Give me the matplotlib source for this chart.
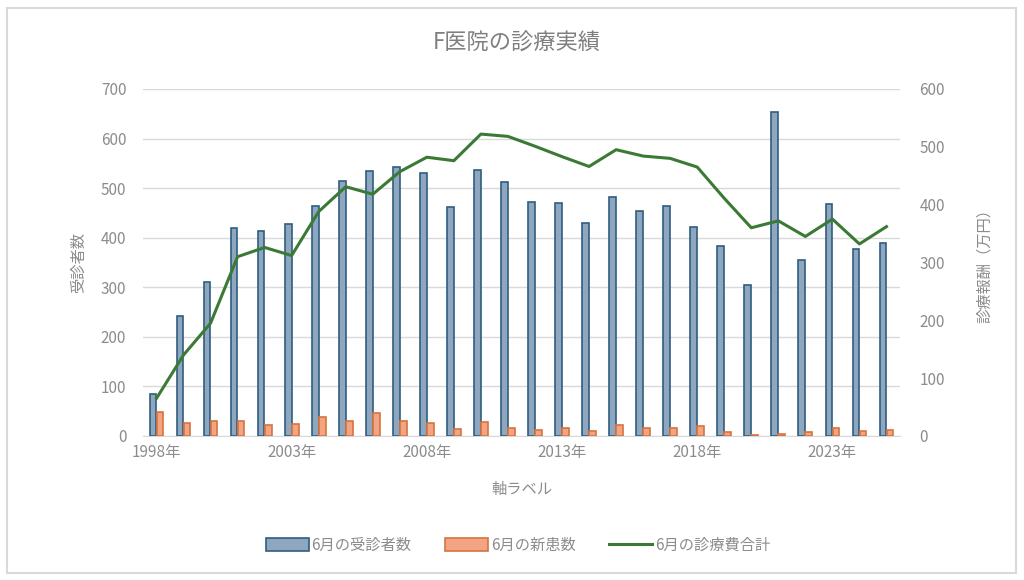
import matplotlib.pyplot as plt
import numpy as np
from matplotlib.patches import FancyBboxPatch

plt.rcParams['font.family'] = ['Noto Sans CJK JP', 'DejaVu Sans']

years = list(range(1998, 2026))
patients = [85, 242, 311, 419, 413, 428, 464, 515, 535, 543, 531, 461, 537, 513,
            473, 469, 430, 483, 453, 464, 421, 383, 305, 654, 354, 468, 377, 390]
new_patients = [48, 26, 30, 30, 22, 24, 39, 30, 46, 31, 26, 15, 29, 17,
                13, 17, 11, 22, 17, 17, 20, 8, 2, 4, 8, 17, 10, 13]
fees = [65, 140, 195, 310, 326, 312, 388, 431, 418, 457, 482, 476, 522, 518,
        501, 483, 466, 495, 484, 480, 465, 411, 360, 372, 345, 375, 332, 362]
tick_years = [1998, 2003, 2008, 2013, 2018, 2023]

gray = '#8c8c8c'
fig = plt.figure(figsize=(10.24, 5.8), dpi=100)
fig.patch.set_facecolor('white')
fig.patches.append(FancyBboxPatch((0.007, 0.012), 0.985, 0.975, boxstyle='square,pad=0',
                                  transform=fig.transFigure, fill=False,
                                  edgecolor='#d9d9d9', linewidth=1.5))

ax = fig.add_axes([0.1396, 0.2483, 0.7393, 0.5983])
ax2 = ax.twinx()
x = np.arange(len(years))
w = 0.25
ax.bar(x - 0.13, patients, w, color='#8fa7be', edgecolor='#2f5d80', linewidth=1.2,
       label='6月の受診者数', zorder=3)
ax.bar(x + 0.13, new_patients, w, color='#f3a583', edgecolor='#d6743e', linewidth=1.2,
       label='6月の新患数', zorder=3)
ax2.plot(x, fees, color='#3b7a35', linewidth=2.2, label='6月の診療費合計')

ax.set_xlim(-0.5, len(years) - 0.5)
ax.set_ylim(0, 700)
ax2.set_ylim(0, 600)
ax.set_yticks(range(0, 701, 100))
ax2.set_yticks(range(0, 601, 100))
ax.yaxis.grid(True, color='#d9d9d9', linewidth=1, zorder=0)
ax.set_axisbelow(True)
ax.set_xticks([years.index(t) for t in tick_years])
ax.set_xticklabels([f'{t}年' for t in tick_years])

for a in (ax, ax2):
    for s in a.spines.values():
        s.set_visible(False)
    a.tick_params(length=0, colors=gray, labelsize=11)
ax.spines['bottom'].set_visible(True)
ax.spines['bottom'].set_color('#d9d9d9')
ax.tick_params(axis='y', pad=12)
ax2.tick_params(axis='y', pad=14)
ax.tick_params(axis='x', pad=6)

ax.set_ylabel('受診者数', color=gray, fontsize=11, labelpad=10)
ax2.set_ylabel('診療報酬（万円）', color=gray, fontsize=11, rotation=90)
ax2.yaxis.set_label_coords(1.10, 0.5)
ax.set_xlabel('軸ラベル', color=gray, fontsize=11, labelpad=14)
fig.text(0.505, 0.925, 'F医院の診療実績', ha='center', va='center', color='#7f7f7f', fontsize=16)

h1, l1 = ax.get_legend_handles_labels()
h2, l2 = ax2.get_legend_handles_labels()
fig.legend(h1 + h2, l1 + l2, loc='center', bbox_to_anchor=(0.506, 0.06), ncol=3,
           frameon=False, fontsize=11, labelcolor=gray, handlelength=2.8,
           handleheight=0.9, handletextpad=0.2, columnspacing=2.2)

fig.savefig('out.png', dpi=100)
